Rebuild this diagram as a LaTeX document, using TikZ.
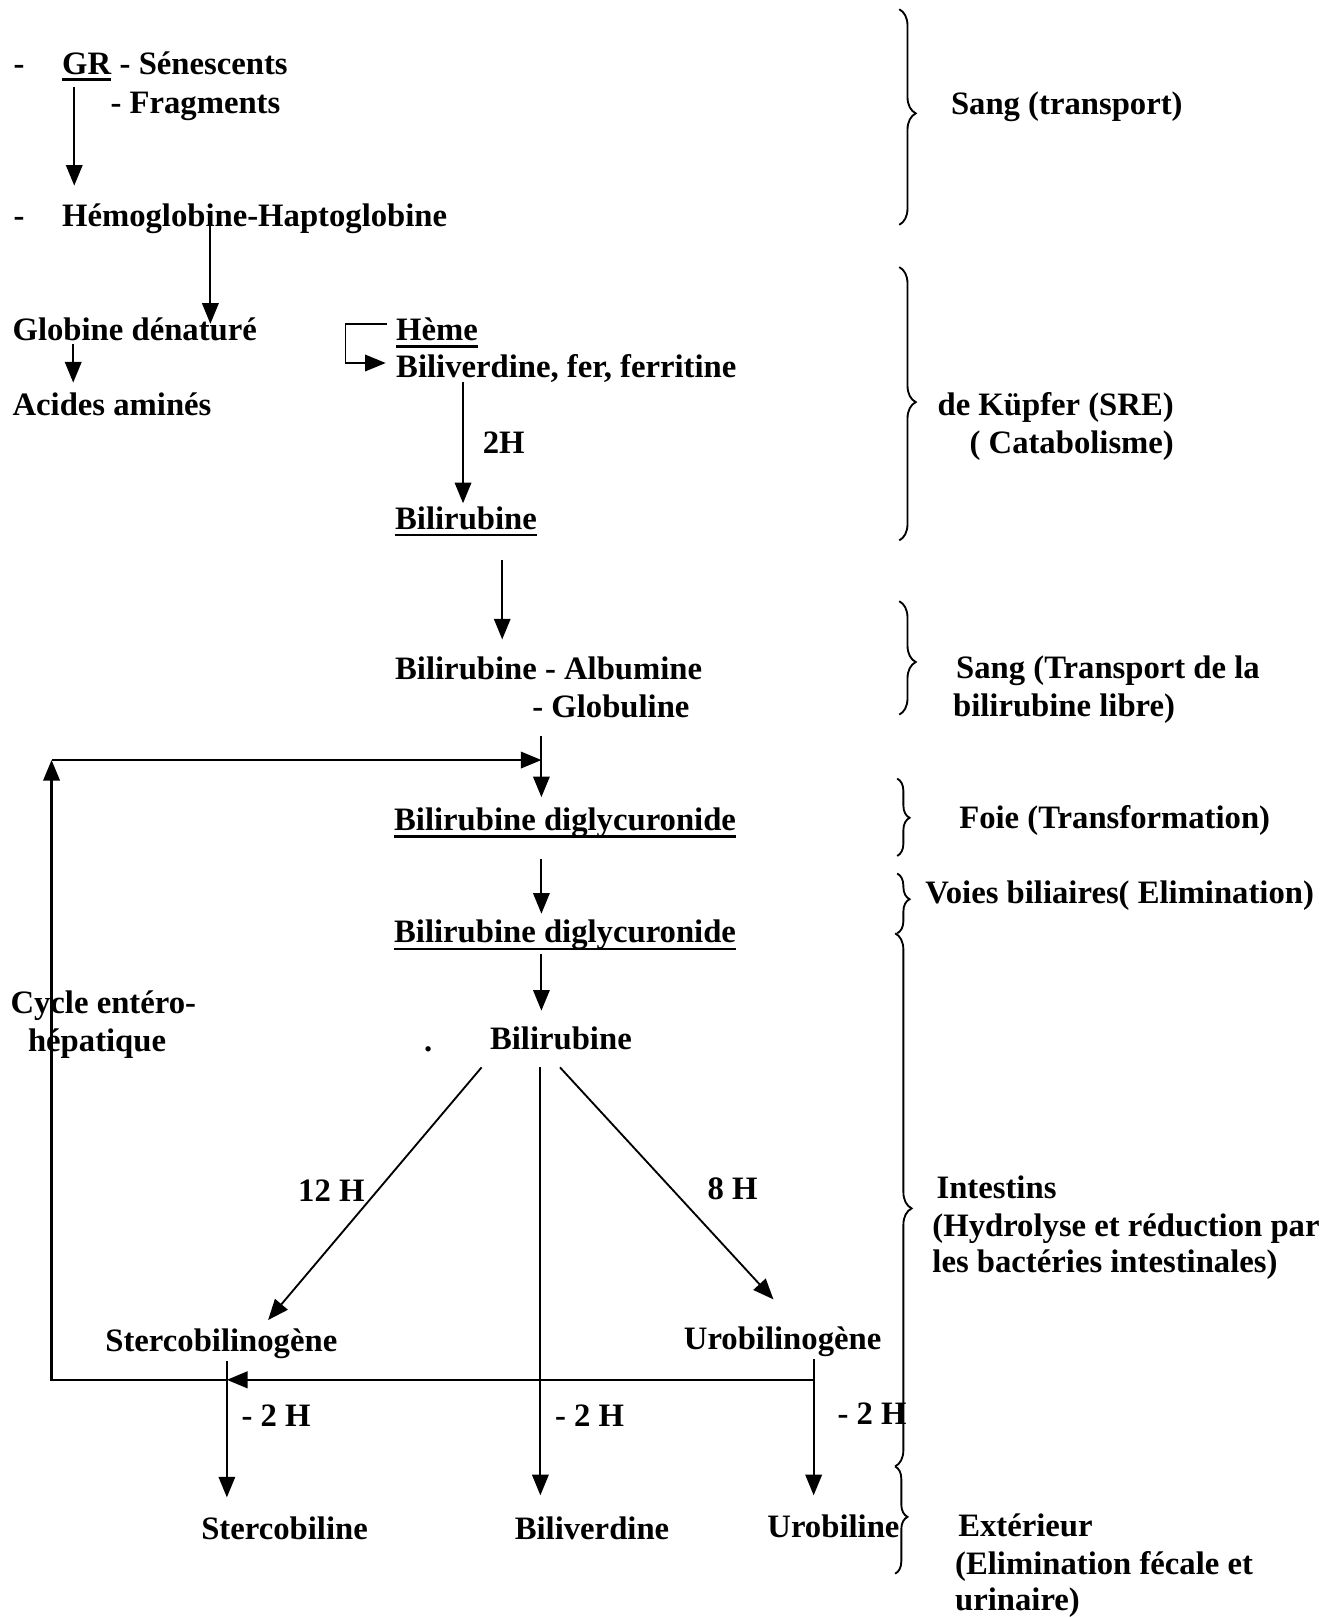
\documentclass[tikz,border=0pt]{standalone}
\usepackage{fontspec}
\setmainfont{Liberation Serif}
\usetikzlibrary{arrows.meta,calc,decorations.pathreplacing}
\begin{document}
\begin{tikzpicture}[x=1pt,y=-1pt,
  lbl/.style={inner sep=0pt, anchor=base west, font=\fontsize{31.7}{38}\selectfont\bfseries},
  arr/.style={line width=1.8pt, -{Triangle[length=20pt,width=16pt]}},
  ulin/.style={line width=2.4pt},
  brc/.style={line width=1.8pt, decorate, decoration={brace, amplitude=16pt, aspect=#1}},
  brcs/.style={line width=1.8pt, decorate, decoration={brace, amplitude=12pt, aspect=#1}}]
\useasboundingbox (0,0) rectangle (1284,1568);

% ---- left column texts ----
\node[lbl] (d1) at (13,72) {-};
\node[lbl] (gr) at (60,72) {GR};
\node[lbl] (sen) at (gr.base east) {~- Sénescents};
\node[lbl] (frag) at (107,110) {- Fragments};
\node[lbl] (d2) at (13,220) {-};
\node[lbl] (hemo) at (60,220) {Hémoglobine-Haptoglobine};
\node[lbl] (glob) at (12,330) {Globine dénaturé};
\node[lbl] (acid) at (12,403) {Acides aminés};
\node[lbl] (heme) at (384,330) {Hème};
\node[lbl] (bili) at (384,366) {Biliverdine, fer, ferritine};
\node[lbl] (h2) at (468,440) {2H};
\node[lbl] (bilr) at (383,513) {Bilirubine};
\node[lbl] (alb) at (383,659) {Bilirubine - Albumine};
\node[lbl] (glo2) at (516,696) {- Globuline};
\node[lbl] (dig1) at (382,805) {Bilirubine diglycuronide};
\node[lbl] (dig2) at (382,914) {Bilirubine diglycuronide};
\node[lbl] (cyc1) at (10,983) {Cycle entéro-};
\node[lbl] (cyc2) at (27,1020) {hépatique};
\node[lbl] (dot) at (411,1020) {.};
\node[lbl] (bil3) at (475,1018) {Bilirubine};
\node[lbl] (h12) at (289,1165) {12 H};
\node[lbl] (h8) at (686,1163) {8 H};
\node[lbl] (scg) at (102,1311) {Stercobilinogène};
\node[lbl] (ucg) at (663,1309) {Urobilinogène};
\node[lbl] (m1) at (234,1383) {- 2 H};
\node[lbl] (m2) at (538,1383) {- 2 H};
\node[lbl] (m3) at (812,1381) {- 2 H};
\node[lbl] (sb) at (195,1493) {Stercobiline};
\node[lbl] (bv) at (499,1493) {Biliverdine};
\node[lbl] (ub) at (744,1491) {Urobiline};

% underlines
\draw[ulin] ($(gr.base west)+(0,5)$) -- ($(gr.base east)+(0,5)$);
\draw[ulin] ($(heme.base west)+(0,6)$) -- ($(heme.base east)+(0,6)$);
\draw[ulin] ($(bilr.base west)+(0,6)$) -- ($(bilr.base east)+(0,6)$);
\draw[ulin] ($(dig1.base west)+(0,6)$) -- ($(dig1.base east)+(0,6)$);
\draw[ulin] ($(dig2.base west)+(0,6)$) -- ($(dig2.base east)+(0,6)$);

% ---- connectors ----
\draw[arr] ($(gr.base west)+(12,12)$) -- ($(hemo.base west)+(12,-40)$);
\draw[arr] ($(hemo.base west)+(144,-7)$) -- ($(glob.base west)+(192,-16)$);
\draw[arr] ($(glob.base west)+(59,4)$) -- ($(acid.base west)+(59,-32)$);
\draw[arr] ($(heme.base west)+(-9,-16)$) -- ++(-40,0) |- ($(bili.base west)+(-10,-14)$);
\draw[arr] ($(bili.base west)+(65,4)$) -- ($(bilr.base west)+(66,-25)$);
\draw[arr] ($(bilr.base west)+(104,30)$) -- ($(alb.base west)+(104,-39)$);
\draw[arr] ($(glo2.base west)+(9,18)$) -- ($(dig1.base west)+(143,-32)$);
\draw[arr] ($(dig1.base west)+(143,28)$) -- ($(dig2.base west)+(143,-28)$);
\draw[arr] ($(dig2.base west)+(143,11)$) -- ($(bil3.base west)+(50,-38)$);
\draw[arr] ($(bil3.base west)+(-8,17)$) -- ($(scg.base west)+(158,-31)$);
\draw[arr] ($(bil3.base west)+(49,17)$) -- ($(bv.base west)+(25,-43)$);
\draw[arr] ($(bil3.base west)+(68,17)$) -- ($(ucg.base west)+(87,-49)$);
\draw[arr] ($(scg.base west)+(118,9)$) -- ($(sb.base west)+(25,-41)$);
\draw[arr] ($(ucg.base west)+(126,9)$) -- ($(ub.base west)+(45,-41)$);
% entero-hepatic cycle
\coordinate (cb) at (50,1338);
\coordinate (ct) at (50,737);
\draw[arr, line width=2.4pt] ($(ucg.base west)+(126,29)$) -- ($(scg.base west)+(118,27)$);
\draw[arr, line width=2.2pt] ($(scg.base west)+(118,27)$) -- (cb) -- (ct);
\draw[arr, line width=2.2pt] (ct) -- ($(dig1.base west)+(143,-68)$);

% ---- braces ----
\draw[brc=0.483] (872,9) -- (872,218);
\draw[brc=0.494] (872,259) -- (872,524);
\draw[brc=0.536] (872,583) -- (872,693);
\draw[brcs=0.507] (870,755) -- (870,830);
\draw[brcs=0.43] (870,847) -- (870,905);
\draw[brc=0.516] (868,905) -- (868,1422);
\draw[brcs=0.47] (868,1422) -- (868,1526);

% ---- right labels ----
\node[lbl] (r1) at (922,111) {Sang (transport)};
\node[lbl] (r2a) at (909,403) {de Küpfer (SRE)};
\node[lbl] (r2b) at (940,440) {( Catabolisme)};
\node[lbl] (r3a) at (927,658) {Sang (Transport de la};
\node[lbl] (r3b) at (924,695) {bilirubine libre)};
\node[lbl] (r4) at (930,803) {Foie (Transformation)};
\node[lbl] (r5) at (897,876) {Voies biliaires( Elimination)};
\node[lbl] (r6a) at (908,1162) {Intestins};
\node[lbl] (r6b) at (904,1199) {(Hydrolyse et réduction par};
\node[lbl] (r6c) at (904,1234) {les bactéries intestinales)};
\node[lbl] (r7a) at (929,1490) {Extérieur};
\node[lbl] (r7b) at (926,1527) {(Elimination fécale et};
\node[lbl] (r7c) at (926,1562) {urinaire)};
\end{tikzpicture}
\end{document}
